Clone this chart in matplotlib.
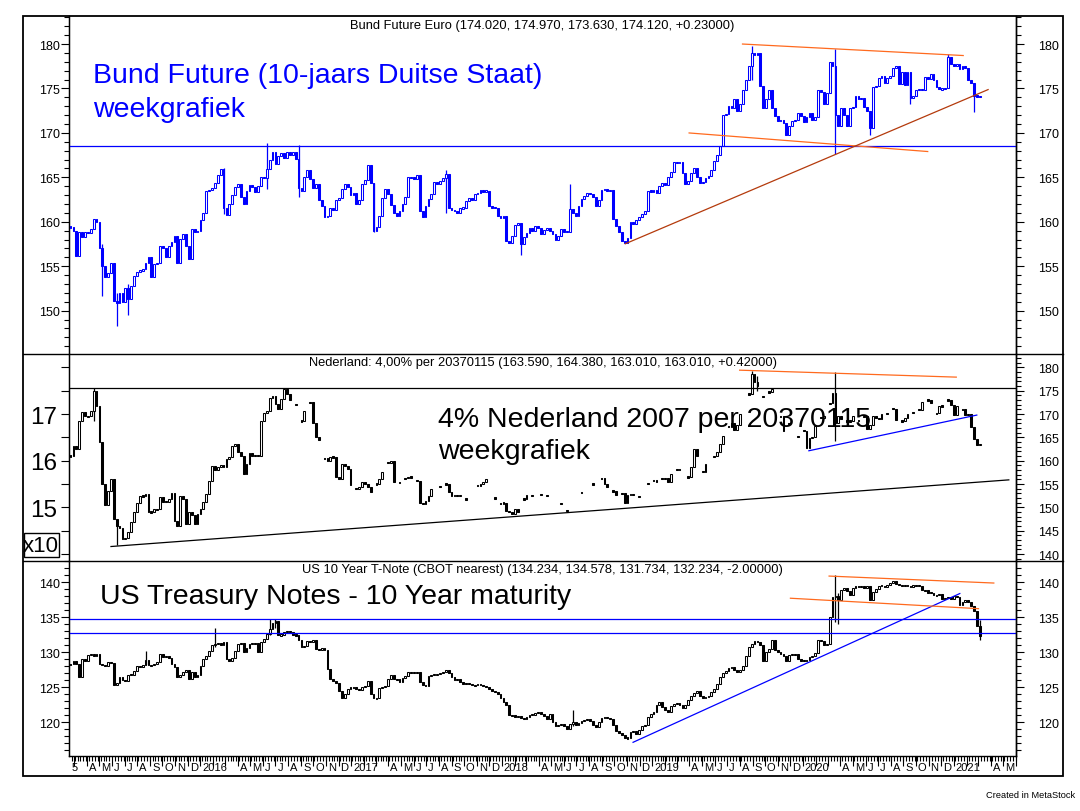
import numpy as np
import matplotlib
matplotlib.use('Agg')
import matplotlib.pyplot as plt
import matplotlib.dates as mdates
import matplotlib.transforms as mtransforms
from matplotlib.patches import Rectangle
from matplotlib.lines import Line2D
from matplotlib.ticker import MultipleLocator, FixedLocator, FixedFormatter, NullFormatter

plt.rcParams['font.family'] = ['Liberation Sans', 'DejaVu Sans']

# first weekly bar (Friday) and visible date range
FIRST_WEEK = '2015-02-20'
X_START = '2015-02-17'
X_END = '2021-06-01'

# Bund future, weekly closes
BUND_CLOSE = [
    159.4, 159.0, 156.2, 158.8, 158.3, 158.9, 158.7, 159.2, 160.3, 160.0,
    157.0, 155.0, 153.8, 154.2, 155.4, 151.1, 150.9, 152.0, 151.0, 152.6,
    151.3, 152.8, 153.9, 154.4, 154.5, 154.7, 155.4, 156.0, 153.8, 155.2,
    155.4, 157.3, 157.1, 156.0, 157.3, 157.7, 158.4, 155.4, 158.1, 158.6,
    157.3, 155.8, 159.2, 158.8, 159.0, 160.2, 161.0, 163.5, 163.6, 163.8,
    164.4, 165.3, 165.9, 161.5, 160.8, 162.0, 163.0, 163.9, 164.2, 162.8,
    162.0, 163.5, 164.1, 163.9, 163.3, 164.0, 165.0, 164.9, 165.9, 167.0,
    167.8, 166.5, 167.4, 167.7, 167.2, 167.8, 167.5, 167.8, 167.1, 163.8,
    163.5, 165.0, 165.8, 164.8, 163.8, 164.3, 162.5, 161.8, 160.5, 160.7,
    161.5, 161.3, 162.5, 162.7, 163.7, 164.2, 163.9, 163.0, 163.2, 162.0,
    162.5, 164.2, 164.7, 166.4, 164.4, 159.0, 159.4, 160.6, 162.7, 163.7,
    163.1, 161.9, 161.0, 160.7, 161.2, 162.0, 162.8, 165.0, 165.0, 164.8,
    165.3, 161.2, 160.5, 161.8, 162.6, 163.1, 164.5, 164.3, 164.6, 164.9,
    165.4, 161.5, 161.3, 161.2, 161.0, 161.5, 161.6, 162.3, 162.7, 162.5,
    163.1, 163.2, 163.6, 163.4, 163.5, 161.8, 161.6, 161.6, 160.6, 160.4,
    160.6, 157.8, 157.6, 158.4, 159.6, 159.9, 157.5, 158.3, 158.7, 159.3,
    159.0, 159.5, 159.3, 158.6, 159.1, 159.3, 159.0, 158.6, 158.0, 158.4,
    159.2, 158.9, 158.9, 161.4, 161.0, 160.7, 161.8, 162.6, 162.9, 163.2,
    163.1, 162.8, 161.8, 162.4, 163.6, 163.7, 163.5, 163.6, 160.3, 159.5,
    158.8, 157.8, 157.6, 158.2, 160.0, 159.7, 160.2, 160.5, 160.9, 161.2,
    163.5, 163.4, 163.6, 163.2, 164.0, 164.4, 164.1, 165.0, 165.6, 166.7,
    166.6, 166.7, 165.5, 164.3, 164.6, 165.5, 166.0, 165.0, 164.4, 164.5,
    164.9, 165.2, 165.8, 166.8, 167.5, 168.5, 172.0, 172.1, 173.0, 172.8,
    173.8, 172.5, 173.2, 174.8, 176.0, 177.5, 179.0, 178.8, 179.0, 175.3,
    172.8, 173.8, 174.8, 172.8, 171.9, 171.3, 171.5, 171.1, 169.8, 170.8,
    171.3, 171.5, 172.2, 171.9, 171.2, 171.8, 172.2, 171.5, 171.8, 174.8,
    174.6, 173.2, 174.5, 178.0, 177.5, 172.0, 170.8, 172.8, 172.0, 170.8,
    172.8, 172.9, 174.2, 173.8, 173.9, 172.9, 172.5, 170.5, 175.2, 175.3,
    176.2, 176.4, 175.6, 176.2, 176.4, 177.3, 177.5, 175.5, 176.9, 175.4,
    176.8, 173.9, 174.1, 174.8, 174.9, 174.8, 176.3, 176.1, 176.6, 176.0,
    175.2, 174.9, 175.0, 175.0, 178.5, 177.7, 177.6, 177.7, 177.2, 177.5,
    177.3, 176.0, 175.6, 174.2, 174.1, 174.1,
]
# weeks with a visible wick: index, high, low
BUND_WICK_IDX = [11, 16, 20, 53, 68, 79, 105, 130, 156, 173, 236, 265, 277, 291, 304, 313]
BUND_WICK_HIGH = [157.5, 152.0, 153.0, 166.0, 168.9, 168.6, 164.4, 165.8, 159.9, 164.2,
                  179.8, 179.4, 172.5, 176.8, 178.9, 175.6]
BUND_WICK_LOW = [151.7, 148.3, 149.5, 160.9, 163.7, 162.8, 158.8, 161.0, 156.3, 158.9,
                 176.0, 167.6, 169.8, 173.2, 175.0, 172.3]
BUND_TREND_WEEK = [(232.6, 309.5), (214.1, 297.2), (192.0, 318.1)]
BUND_TREND_VAL = [(180.0, 178.7), (170.0, 167.9), (157.5, 174.9)]
BUND_LEVEL = 168.5

# 4% Nederland 2037, weekly closes (None = no trade that week)
NL_CLOSE = [
    161.0, 163.2, 162.5, 168.6, 170.5, 169.6, 169.5, 170.7, 175.0, 171.8,
    164.0, 155.0, 150.5, 153.5, 156.0, 147.5, 146.0, 145.6, 143.2, 143.5,
    144.8, 146.9, 149.1, 151.0, 152.5, 152.4, 152.8, 149.0, 149.0, 149.6,
    149.6, 152.2, 151.2, 151.2, 151.8, 153.0, 147.0, 146.0, 152.5, 151.7,
    146.4, 149.0, 148.3, 146.5, 148.5, 149.6, 151.1, 152.9, 155.7, 158.8,
    158.0, 158.6, 159.0, 158.7, 160.4, 160.7, 163.2, 163.6, 161.8, 161.0,
    157.2, 159.2, 161.7, 161.0, 161.2, 161.1, 168.6, 170.2, 170.7, 173.5,
    173.9, 172.2, 171.1, 173.2, 175.3, 174.3, 173.0, None, 172.0, None,
    168.5, 170.7, None, 172.5, 168.0, 165.0, 164.5, None, 160.5, 160.0,
    160.8, 160.8, 156.6, 156.1, 159.3, 158.9, 158.3, 154.8, None, 154.0,
    154.3, 155.5, 155.0, 154.3, 153.3, None, 155.0, 156.1, 157.5, None,
    159.6, 160.0, 155.5, None, 155.3, None, 156.2, 156.5, 156.5, None,
    155.7, 151.0, 150.8, 151.4, 152.5, 153.9, None, None, 154.4, None,
    155.0, 153.2, 152.5, 152.6, 152.5, 152.6, None, 151.8, None, None,
    None, 154.6, 155.0, 155.4, 156.1, None, None, 152.0, None, 150.9,
    151.0, 149.2, 149.0, 148.6, 149.7, 149.0, None, 151.8, 152.6, None,
    152.6, None, None, 152.8, None, 152.6, None, None, None, None,
    150.9, None, 149.4, None, None, None, None, 153.1, None, None,
    None, 155.0, None, None, 156.2, 155.1, 154.3, None, 153.5, 152.7,
    None, 153.0, 151.0, 152.6, 152.9, 152.6, None, 152.4, None, None,
    155.1, None, 155.7, 155.6, None, 156.1, 156.2, 155.5, 157.2, None,
    158.2, 158.0, None, None, 156.5, 158.6, 162.6, 160.9, None, 157.6,
    159.3, None, None, 160.9, 161.9, 163.6, 165.2, None, 167.3, 168.0,
    166.5, 167.7, 170.0, None, None, 174.3, 178.5, 176.8, 176.1, None,
    173.8, None, 174.7, 175.4, None, None, 169.5, 166.4, None, 167.9,
    None, None, 165.2, None, 166.4, 162.7, 164.8, 165.0, 167.5, None,
    169.2, 169.6, None, 172.3, 174.5, 168.0, 169.6, 169.0, None, 168.5,
    168.5, 169.6, None, 168.7, None, 169.5, 166.7, 167.6, 169.5, 169.2,
    169.0, 169.9, None, 170.2, None, 171.1, 168.7, None, 168.5, 169.2,
    169.9, None, 170.3, None, 170.9, 172.6, None, 173.0, 172.3, None,
    170.2, 171.8, 171.6, None, 173.0, 172.0, 169.8, 171.8, None, 171.0,
    169.8, 169.9, 167.3, 164.6, 163.3, 163.6,
]
NL_WICK_IDX = [8, 16, 236, 238, 265]
NL_WICK_HIGH = [175.5, 147.0, 179.3, 178.2, 178.9]
NL_WICK_LOW = [168.5, 142.0, 174.3, 175.0, 164.3]
NL_TREND_WEEK = [(13.8, 325.3), (231.6, 307.1), (255.6, 314.2)]
NL_TREND_VAL = [(141.6, 155.9), (179.4, 177.9), (162.1, 169.8)]
NL_LEVEL = 175.5

# US 10 year T-Note, weekly closes
UST_CLOSE = [
    128.3, 128.7, 128.3, 126.4, 129.0, 128.8, 129.6, 129.8, 129.4, 129.7,
    128.3, 128.1, 128.0, 128.6, 128.4, 125.3, 125.6, 126.4, 126.0, 125.9,
    126.8, 126.8, 127.3, 128.0, 127.9, 128.2, 128.9, 128.2, 128.1, 128.3,
    128.6, 129.7, 129.3, 129.4, 129.2, 128.3, 127.9, 126.5, 126.8, 127.1,
    127.4, 126.2, 127.1, 126.4, 126.7, 128.0, 129.0, 129.5, 130.2, 131.0,
    131.2, 131.3, 131.0, 131.5, 129.0, 128.8, 129.2, 130.1, 131.2, 131.3,
    130.0, 130.6, 131.2, 131.3, 131.3, 130.0, 131.5, 131.9, 132.6, 133.3,
    134.1, 134.5, 132.4, 132.5, 132.9, 133.0, 132.9, 132.5, 132.4, 131.7,
    130.8, 130.9, 131.6, 131.5, 131.8, 130.5, 130.3, 130.6, 130.3, 127.6,
    126.2, 125.9, 125.6, 124.5, 123.5, 124.0, 124.8, 125.0, 125.0, 124.8,
    124.6, 125.0, 125.2, 125.9, 124.1, 123.4, 123.5, 124.9, 125.0, 125.1,
    126.2, 126.7, 126.2, 126.1, 125.8, 126.3, 126.6, 127.1, 127.0, 127.1,
    127.2, 125.7, 125.3, 125.2, 126.6, 126.7, 126.8, 126.9, 127.0, 127.1,
    127.4, 127.0, 126.5, 126.0, 126.2, 125.8, 125.5, 125.5, 125.5, 125.3,
    125.3, 125.5, 125.3, 125.1, 125.0, 124.8, 124.5, 124.3, 124.1, 123.5,
    122.9, 122.5, 121.0, 121.0, 120.8, 120.9, 120.6, 120.4, 120.7, 121.0,
    121.1, 121.3, 121.5, 121.2, 120.9, 120.5, 121.2, 120.0, 119.5, 119.6,
    119.7, 119.4, 119.0, 119.8, 120.1, 119.6, 119.9, 120.2, 120.3, 120.5,
    120.2, 119.6, 119.3, 120.0, 120.6, 120.7, 120.6, 120.4, 119.6, 118.8,
    118.5, 118.2, 117.8, 117.7, 118.6, 118.8, 118.3, 118.9, 119.4, 119.6,
    120.8, 121.2, 121.4, 122.4, 122.9, 122.2, 121.7, 121.5, 122.3, 122.6,
    122.7, 122.5, 122.0, 122.4, 123.2, 123.7, 124.2, 124.4, 123.7, 123.5,
    123.6, 123.8, 124.3, 124.8, 125.4, 126.5, 127.0, 127.3, 127.7, 127.9,
    127.5, 127.2, 127.4, 128.0, 129.4, 130.8, 131.2, 131.6, 131.5, 131.0,
    128.8, 130.0, 130.5, 131.8, 130.3, 130.0, 129.8, 129.5, 128.7, 129.6,
    129.7, 129.7, 129.0, 128.8, 128.7, 128.9, 129.3, 129.5, 129.9, 131.7,
    131.6, 131.0, 131.2, 135.0, 137.8, 138.0, 137.5, 138.8, 139.1, 138.7,
    138.2, 139.2, 139.4, 139.3, 139.4, 139.2, 139.4, 137.5, 138.6, 139.0,
    139.4, 139.5, 139.3, 139.6, 139.8, 140.1, 139.7, 139.6, 139.4, 139.6,
    139.4, 139.3, 139.6, 139.5, 139.4, 138.9, 138.8, 138.5, 138.4, 138.1,
    138.2, 138.3, 137.6, 137.7, 137.9, 137.6, 138.0, 137.9, 136.7, 137.2,
    137.5, 137.2, 136.6, 135.9, 133.8, 132.3,
]
UST_WICK_IDX = [26, 50, 69, 71, 174, 265, 266, 315]
UST_WICK_HIGH = [130.2, 133.5, 134.8, 134.8, 121.7, 141.0, 138.5, 134.6]
UST_WICK_LOW = [128.2, 130.8, 132.5, 133.5, 119.5, 134.3, 134.0, 131.7]
UST_TREND_WEEK = [(194.7, 308.3), (262.6, 320.1), (249.2, 314.8)]
UST_TREND_VAL = [(117.1, 138.4), (140.86, 139.86), (137.7, 136.2)]
UST_LEVELS = [134.7, 132.7]

BLUE = '#0000ff'
ORANGE = '#ff6a1e'
BROWN = '#b43a0c'

W, H = 1080, 812
PLOT_L, PLOT_R = 69.3, 1016.0
BOX_L, BOX_R, BOX_T, BOX_B = 22.7, 1062.5, 17.0, 777.3


def fx(p):
    return p / W


def fy(p):
    return 1 - p / H


fig = plt.figure(figsize=(W / 100, H / 100), dpi=100)

x0 = mdates.date2num(np.datetime64(FIRST_WEEK))
xlim = (mdates.date2num(np.datetime64(X_START)), mdates.date2num(np.datetime64(X_END)))


def week_x(i):
    return x0 + 7 * np.asarray(i, dtype=float)


def make_panel(top, bottom, ylim):
    ax = fig.add_axes([fx(PLOT_L), fy(bottom), fx(PLOT_R - PLOT_L), (bottom - top) / H])
    ax.set_xlim(xlim)
    ax.set_ylim(ylim)
    for side in ('top', 'bottom'):
        ax.spines[side].set_visible(False)
    for side in ('left', 'right'):
        ax.spines[side].set_linewidth(1.0)
    ax.tick_params(axis='x', which='both', bottom=False, labelbottom=False)
    ax.tick_params(axis='y', which='major', direction='out', length=6, width=0.8,
                   labelsize=9, pad=1)
    ax.tick_params(axis='y', which='minor', direction='out', length=3.5, width=0.8)
    axr = ax.twinx()
    axr.set_ylim(ylim)
    for side in ('top', 'bottom'):
        axr.spines[side].set_visible(False)
    axr.spines['right'].set_linewidth(1.0)
    axr.yaxis.set_major_locator(MultipleLocator(5))
    axr.yaxis.set_minor_locator(MultipleLocator(1))
    axr.tick_params(axis='y', which='major', direction='out', length=6, width=0.8,
                    labelsize=9, pad=10)
    axr.tick_params(axis='y', which='minor', direction='out', length=3.5, width=0.8)
    return ax


def candles(ax, closes, color, min_h, w_idx, w_high, w_low):
    c = np.array(closes, dtype=float)
    prev = np.r_[np.nan, c[:-1]]
    o = np.where(np.isnan(prev), c, prev)
    xs = week_x(np.arange(len(c)))
    ok = ~np.isnan(c)
    diff = np.abs(c - o)
    h = np.maximum(diff, min_h)
    lo = np.minimum(o, c) - (h - diff) / 2
    up = ok & (c > o)
    dn = ok & ~(c > o)
    idx = np.array(w_idx)
    ax.vlines(xs[idx], w_low, w_high, color=color, lw=0.9, zorder=2)
    ax.bar(xs[up], h[up], width=4.3, bottom=lo[up], facecolor='white',
           edgecolor=color, linewidth=0.75, zorder=3)
    ax.bar(xs[dn], h[dn], width=4.3, bottom=lo[dn], facecolor=color,
           edgecolor=color, linewidth=0.75, zorder=3)


def trend(ax, weeks, vals, color, lw=0.9):
    ax.plot(week_x(weeks), vals, color=color, lw=lw, zorder=4, solid_capstyle='butt')


# ---- panel 1: Bund future
ax1 = make_panel(BOX_T, 355, (145.13, 183.15))
ax1.yaxis.set_major_locator(MultipleLocator(5))
ax1.yaxis.set_minor_locator(MultipleLocator(1))
ax1.axhline(BUND_LEVEL, color=BLUE, lw=0.9, zorder=4)
candles(ax1, BUND_CLOSE, BLUE, 0.15, BUND_WICK_IDX, BUND_WICK_HIGH, BUND_WICK_LOW)
for wk, vl, col in zip(BUND_TREND_WEEK, BUND_TREND_VAL, [ORANGE, ORANGE, BROWN]):
    trend(ax1, wk, vl, col)

# ---- panel 2: Nederland 2037
ax2 = make_panel(355, 561.7, (138.57, 182.86))
ax2.yaxis.set_major_locator(FixedLocator([150, 160, 170]))
ax2.yaxis.set_major_formatter(FixedFormatter(['15', '16', '17']))
ax2.yaxis.set_minor_locator(FixedLocator([140, 145, 155, 165, 175, 180]))
ax2.tick_params(axis='y', which='major', labelsize=17.5, pad=3)
ax2.tick_params(axis='y', which='minor', length=6)
ax2.axhline(NL_LEVEL, color='black', lw=0.9, zorder=4)
candles(ax2, NL_CLOSE, 'black', 0.25, NL_WICK_IDX, NL_WICK_HIGH, NL_WICK_LOW)
for wk, vl, col in zip(NL_TREND_WEEK, NL_TREND_VAL, ['black', ORANGE, BLUE]):
    trend(ax2, wk, vl, col)

# ---- panel 3: US T-Note
ax3 = make_panel(561.7, 757.3, (115.14, 143.05))
ax3.spines['bottom'].set_visible(True)
ax3.spines['bottom'].set_linewidth(1.0)
ax3.yaxis.set_major_locator(MultipleLocator(5))
ax3.yaxis.set_minor_locator(MultipleLocator(1))
for lvl in UST_LEVELS:
    ax3.axhline(lvl, color=BLUE, lw=0.9, zorder=4)
candles(ax3, UST_CLOSE, 'black', 0.15, UST_WICK_IDX, UST_WICK_HIGH, UST_WICK_LOW)
for wk, vl, col in zip(UST_TREND_WEEK, UST_TREND_VAL, [BLUE, ORANGE, ORANGE]):
    trend(ax3, wk, vl, col)

# x axis: weekly minor ticks, monthly major ticks, month letters beside the ticks
ax3.xaxis.set_major_locator(mdates.MonthLocator())
ax3.xaxis.set_minor_locator(mdates.WeekdayLocator(byweekday=mdates.MO))
ax3.xaxis.set_major_formatter(NullFormatter())
ax3.tick_params(axis='x', which='major', bottom=True, direction='out', length=7, width=0.8)
ax3.tick_params(axis='x', which='minor', bottom=True, direction='out', length=3.5, width=0.8)

blend = mtransforms.blended_transform_factory(ax3.transData, ax3.transAxes)
lab_tr = mtransforms.offset_copy(blend, fig=fig, x=2, y=-5.5, units='dots')
months = np.arange(np.datetime64('2015-04'), np.datetime64('2021-06'), np.timedelta64(1, 'M'))
for m in months:
    k = int(m.astype(int))
    mon, yr = k % 12 + 1, k // 12 + 1970
    if mon in (2, 3):
        continue
    txt = str(yr) if mon == 1 else 'JFMAMJJASOND'[mon - 1]
    ax3.text(mdates.date2num(m.astype('datetime64[D]')), 0, txt, transform=lab_tr,
             ha='left', va='top', fontsize=8, clip_on=False)
ax3.text(xlim[0], 0, '5', transform=lab_tr, ha='left', va='top', fontsize=8, clip_on=False)

# ---- frame, separators, titles
fig.add_artist(Rectangle((fx(BOX_L), fy(BOX_B)), fx(BOX_R - BOX_L), (BOX_B - BOX_T) / H,
                         transform=fig.transFigure, fill=False, lw=1.3, ec='black'))
for ysep in (355, 561.7):
    fig.add_artist(Line2D([fx(BOX_L), fx(BOX_R)], [fy(ysep), fy(ysep)],
                          transform=fig.transFigure, color='black', lw=1.0))

xc = fx((PLOT_L + PLOT_R) / 2)
fig.text(xc, fy(26.5), 'Bund Future Euro (174.020, 174.970, 173.630, 174.120, +0.23000)',
         ha='center', va='center', fontsize=9.3)
fig.text(xc, fy(362.7), 'Nederland: 4,00% per 20370115 (163.590, 164.380, 163.010, 163.010, +0.42000)',
         ha='center', va='center', fontsize=9.3)
fig.text(xc, fy(570), 'US 10 Year T-Note (CBOT nearest) (134.234, 134.578, 131.734, 132.234, -2.00000)',
         ha='center', va='center', fontsize=9.3)

fig.text(fx(93), fy(83.3), 'Bund Future (10-jaars Duitse Staat)', color=BLUE,
         fontsize=20.5, va='baseline', ha='left')
fig.text(fx(93), fy(117.3), 'weekgrafiek', color=BLUE, fontsize=20.5, va='baseline', ha='left')
fig.text(fx(438), fy(426.7), '4% Nederland 2007 per 20370115', color='black',
         fontsize=20.5, va='baseline', ha='left')
fig.text(fx(438), fy(459), 'weekgrafiek', color='black', fontsize=20.5, va='baseline', ha='left')
fig.text(fx(100), fy(604), 'US Treasury Notes - 10 Year maturity', color='black',
         fontsize=20.5, va='baseline', ha='left')

fig.add_artist(Rectangle((fx(24), fy(558.3)), fx(34.5), 24 / H, transform=fig.transFigure,
                         fill=True, fc='white', lw=1.0, ec='black'))
fig.text(fx(41.2), fy(546.5), 'x10', ha='center', va='center', fontsize=16)

fig.text(fx(1075), fy(796), 'Created in MetaStock', ha='right', va='center', fontsize=6.7)

fig.savefig('out.png', dpi=100)
